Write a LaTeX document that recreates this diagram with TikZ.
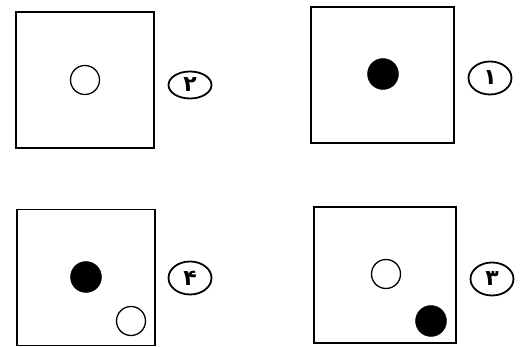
\documentclass[tikz,border=0pt]{standalone}
\usepackage{fontspec}
\newfontfamily\arabicfont[Script=Arabic]{DejaVu Sans}
\TeXXeTstate=1
\usepackage{tikz}
\usetikzlibrary{shapes.geometric}

\begin{document}
\begin{tikzpicture}[
  x=1pt, y=-1pt,
  frame/.style={draw=black, line width=1.8pt, minimum width=138pt, minimum height=136pt, inner sep=0pt},
  whitedot/.style={circle, draw=black, line width=1.3pt, fill=white, minimum size=29pt, inner sep=0pt},
  blackdot/.style={circle, draw=black, fill=black, minimum size=31pt, inner sep=0pt},
  numtag/.style={ellipse, draw=black, line width=1.8pt, minimum width=43pt, minimum height=33pt, inner sep=0pt,
    font=\arabicfont\bfseries\fontsize{22}{22}\selectfont}
]
  \useasboundingbox (0,0) rectangle (528,347);

  % Top row
  \node[frame] (sq2) at (85, 80) {};
  \node[whitedot] (w2) at (85, 80) {};
  \node[numtag, minimum height=27pt] (n2) at (190, 85) {\beginR ۲\endR};

  \node[frame, minimum width=143pt] (sq1) at (382.5, 75) {};
  \node[blackdot] (b1) at (383, 74) {};
  \node[numtag] (n1) at (490, 78) {\beginR ۱\endR};

  % Bottom row
  \node[frame] (sq4) at (86, 277.5) {};
  \node[blackdot] (b4) at (86, 277) {};
  \node[whitedot] (w4) at (131, 321) {};
  \node[numtag] (n4) at (190, 278) {\beginR ۴\endR};

  \node[frame, minimum width=142pt] (sq3) at (385, 275) {};
  \node[whitedot] (w3) at (386, 274) {};
  \node[blackdot] (b3) at (431, 321) {};
  \node[numtag] (n3) at (492, 279) {\beginR ۳\endR};

\end{tikzpicture}
\end{document}
